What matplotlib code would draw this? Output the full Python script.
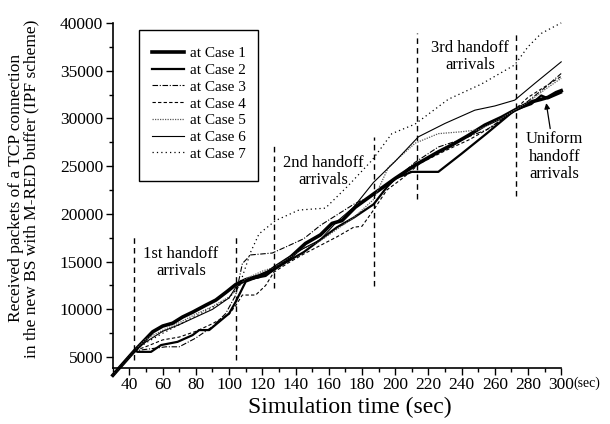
import numpy as np
import matplotlib
matplotlib.use("Agg")
import matplotlib.pyplot as plt
from matplotlib.ticker import MultipleLocator
from matplotlib.patches import Rectangle

plt.rcParams['font.family'] = ['Liberation Serif', 'DejaVu Serif']

# received packets vs simulation time for each handoff case
case1_t = [30, 43, 54, 60, 66, 72, 78, 86, 92, 99, 104, 110, 118, 126, 136, 146, 155, 162, 168, 176,
           186, 200, 212, 226, 234, 244, 254, 264, 272, 282, 288, 292, 297, 300]
case1_y = [3100, 5660, 7650, 8250, 8550, 9200, 9700, 10440, 10970, 11900, 12600, 13100, 13500, 14100,
           15300, 16900, 17800, 19000, 19300, 20700, 21960, 23710, 25100, 26490, 27200, 28200, 29290,
           30100, 30860, 31730, 32000, 32200, 32700, 32900]

case2_t = [30, 43, 45, 53, 59, 69, 78, 82, 88, 94, 100, 104, 110, 116, 122, 128, 135, 145, 155, 165,
           175, 187, 195, 200, 210, 226, 240, 255, 272, 282, 288, 292, 300]
case2_y = [3100, 5660, 5550, 5550, 6260, 6600, 7300, 7830, 7830, 8700, 9570, 10800, 12900, 13300,
           13500, 14300, 15000, 16000, 17300, 18600, 19600, 21000, 22800, 23700, 24400, 24400, 26300,
           28400, 30860, 31500, 32400, 32100, 32700]

case3_t = [30, 43, 54, 62, 70, 80, 90, 98, 104, 108, 113, 126, 135, 145, 155, 165, 175, 187, 200,
           212, 226, 240, 255, 272, 280, 290, 300]
case3_y = [3100, 5660, 5900, 6080, 6080, 7000, 8200, 9570, 11500, 14800, 15700, 15900, 16600, 17400,
           18800, 19900, 21000, 22000, 23600, 25400, 27000, 27800, 28800, 30800, 31800, 33200, 34700]

case4_t = [30, 43, 50, 60, 70, 80, 90, 100, 104, 108, 116, 122, 127, 135, 145, 155, 165, 175, 180,
           187, 195, 205, 215, 230, 245, 260, 272, 280, 290, 300]
case4_y = [3100, 5660, 6100, 6800, 7100, 7700, 8500, 9500, 10400, 11500, 11500, 12500, 13900, 14800,
           15800, 16700, 17600, 18600, 18700, 20400, 22500, 23800, 25300, 26600, 27800, 29300, 30900,
           32200, 33300, 34400]

case5_t = [30, 43, 50, 60, 70, 80, 90, 100, 104, 110, 120, 127, 135, 145, 155, 165, 175, 187, 196,
           212, 226, 240, 250, 262, 272, 280, 290, 300]
case5_y = [3100, 5660, 6900, 7800, 8600, 9500, 10300, 11300, 12000, 13200, 14000, 14400, 15300,
           16400, 17200, 18400, 19600, 21500, 24900, 27400, 28400, 28600, 28800, 29800, 30860, 31700,
           33000, 34200]

case6_t = [30, 43, 50, 60, 70, 80, 90, 100, 104, 110, 118, 127, 135, 145, 155, 165, 175, 187, 200,
           214, 230, 248, 260, 272, 284, 300]
case6_y = [3100, 5660, 6600, 7700, 8400, 9200, 10000, 11200, 12300, 13000, 13300, 14500, 15400,
           16400, 17300, 19200, 20700, 23300, 25500, 28070, 29470, 30860, 31300, 31910, 33650, 35920]

case7_t = [30, 43, 50, 60, 70, 80, 90, 100, 106, 113, 118, 128, 142, 158, 172, 186, 198, 212, 232,
           252, 272, 280, 288, 300]
case7_y = [3100, 5660, 6500, 7500, 8400, 9300, 10200, 11200, 12400, 16000, 17900, 19300, 20400,
           20600, 23000, 25600, 28400, 29400, 32000, 33600, 35600, 37500, 38900, 40000]

# handoff arrival boundaries: (time, y start, y end)
handoff_lines = [(43, 4700, 17600), (104, 4700, 17600), (127, 12200, 27400),
                 (187, 12400, 28000), (213, 21600, 38900), (273, 21900, 39100)]

fig = plt.figure(figsize=(6.1, 4.24), dpi=100)
ax = fig.add_axes([0.185, 0.133, 0.735, 0.813])

ax.plot(case1_t, case1_y, color='black', lw=2.6, label='at Case 1', clip_on=False)
ax.plot(case2_t, case2_y, color='black', lw=1.6, label='at Case 2', clip_on=False)
ax.plot(case3_t, case3_y, color='black', lw=0.8, ls=(0, (5, 1.5, 1, 1.5)), label='at Case 3', clip_on=False)
ax.plot(case4_t, case4_y, color='black', lw=0.8, ls=(0, (3, 2)), label='at Case 4', clip_on=False)
ax.plot(case5_t, case5_y, color='0.35', lw=0.9, ls=(0, (1, 1)), label='at Case 5', clip_on=False)
ax.plot(case6_t, case6_y, color='black', lw=0.8, label='at Case 6', clip_on=False)
ax.plot(case7_t, case7_y, color='black', lw=0.9, ls=(0, (1, 2.5)), label='at Case 7', clip_on=False)

for t, y0, y1 in handoff_lines:
    ax.plot([t, t], [y0, y1], color='black', lw=1.0, ls=(0, (4, 3)))

ax.text(71, 14900, '1st handoff\narrivals', ha='center', va='center', fontsize=12, linespacing=1.1)
ax.text(157, 24450, '2nd handoff\narrivals', ha='center', va='center', fontsize=12, linespacing=1.1)
ax.text(245, 36450, '3rd handoff\narrivals', ha='center', va='center', fontsize=12, linespacing=1.1)
ax.annotate('Uniform\nhandoff\narrivals', xy=(291, 31600), xytext=(296, 26000),
            ha='center', va='center', fontsize=12, linespacing=1.1, annotation_clip=False,
            arrowprops=dict(arrowstyle='-|>', color='black', lw=0.9, mutation_scale=8,
                            shrinkA=24, shrinkB=0))

ax.set_xlim(30, 300)
ax.set_ylim(3900, 40000)
ax.xaxis.set_minor_locator(MultipleLocator(10))
ax.set_xticks(range(40, 301, 20))
ax.yaxis.set_minor_locator(MultipleLocator(2500))
ax.set_yticks(range(5000, 40001, 5000))
ax.tick_params(which='major', direction='out', length=5, width=1, labelsize=12.5, pad=2)
ax.tick_params(which='minor', direction='out', length=3, width=1)
ax.text(1.028, -0.027, '(sec)', transform=ax.transAxes, fontsize=10, ha='left', va='top')

for side in ['top', 'right']:
    ax.spines[side].set_visible(False)
for side in ['left', 'bottom']:
    ax.spines[side].set_linewidth(1.2)

ax.set_xlabel('Simulation time (sec)', fontsize=17)
ax.set_ylabel('Received packets of a TCP connection\nin the new BS with M-RED buffer (IPF scheme)',
              fontsize=12.5, linespacing=1.0)
ax.xaxis.set_label_coords(0.529, -0.085)
ax.yaxis.set_label_coords(-0.163, 0.52)

# legend box drawn separately so the frame can carry extra space at the bottom
fig.patches.append(Rectangle((139 / 610, 1 - 181 / 424), 119 / 610, 151 / 424,
                             transform=fig.transFigure, fill=False, edgecolor='black', lw=1.0))
leg = ax.legend(loc='upper left', bbox_to_anchor=(0.249, 0.89), bbox_transform=fig.transFigure,
                fontsize=11, frameon=False, handlelength=2.1, handletextpad=0.4,
                labelspacing=0.2, borderpad=0, borderaxespad=0)

fig.savefig('out.png', dpi=100)
